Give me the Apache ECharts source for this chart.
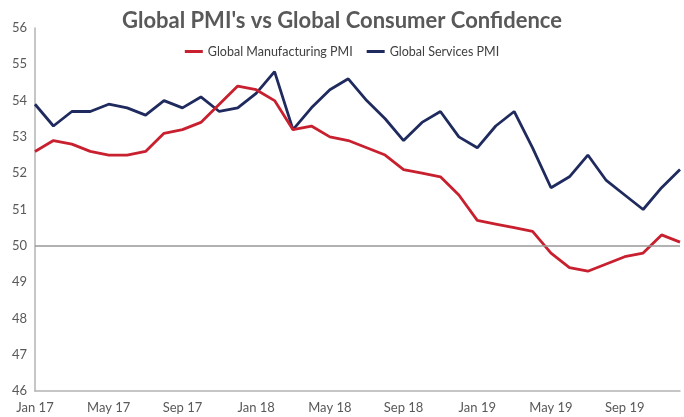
<!DOCTYPE html>
<html>
<head>
<meta charset="utf-8">
<script src="https://cdn.jsdelivr.net/npm/echarts@6/dist/echarts.min.js"></script>
<style>html,body{margin:0;padding:0;background:#fff}#c{width:684px;height:417px}</style>
</head>
<body>
<div id="c"></div>
<script>
var categories = [
  "Jan 17","Feb 17","Mar 17","Apr 17","May 17","Jun 17","Jul 17","Aug 17","Sep 17","Oct 17","Nov 17","Dec 17",
  "Jan 18","Feb 18","Mar 18","Apr 18","May 18","Jun 18","Jul 18","Aug 18","Sep 18","Oct 18","Nov 18","Dec 18",
  "Jan 19","Feb 19","Mar 19","Apr 19","May 19","Jun 19","Jul 19","Aug 19","Sep 19","Oct 19","Nov 19","Dec 19"
];
var manufacturing = [
  52.6,52.9,52.8,52.6,52.5,52.5,52.6,53.1,53.2,53.4,53.9,54.4,
  54.3,54.0,53.2,53.3,53.0,52.9,52.7,52.5,52.1,52.0,51.9,51.4,
  50.7,50.6,50.5,50.4,49.8,49.4,49.3,49.5,49.7,49.8,50.3,50.1
];
var services = [
  53.9,53.3,53.7,53.7,53.9,53.8,53.6,54.0,53.8,54.1,53.7,53.8,
  54.2,54.8,53.2,53.8,54.3,54.6,54.0,53.5,52.9,53.4,53.7,53.0,
  52.7,53.3,53.7,52.7,51.6,51.9,52.5,51.8,51.4,51.0,51.6,52.1
];
var seriesNames = ["Global Manufacturing PMI", "Global Services PMI"];
var titleText = "Global PMI's vs Global Consumer Confidence";

var chart = echarts.init(document.getElementById('c'), null, {renderer:'canvas'});
var font = 'Lato, "Source Sans Pro", sans-serif';
chart.setOption({
  animation: false,
  backgroundColor: '#fff',
  title: {
    text: titleText, left: 'center', top: 5, padding: [5, 0, 5, 14],
    textStyle: {fontFamily: font, fontSize: 22, fontWeight: 'bold', color: '#595959'}
  },
  legend: {
    top: 40, left: 'center', icon: 'rect', itemWidth: 18, itemHeight: 3, itemGap: 14,
    padding: [5, 0, 5, 16],
    textStyle: {fontFamily: font, fontSize: 12.5, color: '#404040'},
    data: seriesNames
  },
  grid: {left: 35, right: 4, top: 28, bottom: 26, containLabel: false},
  xAxis: {
    type: 'category', data: categories, boundaryGap: false,
    axisLine: {lineStyle: {color: '#b3b3b3', width: 1.5}},
    axisTick: {show: false},
    axisLabel: {interval: 3, fontFamily: font, fontSize: 13, color: '#595959', margin: 10},
    splitLine: {show: false}
  },
  yAxis: {
    type: 'value', min: 46, max: 56, interval: 1,
    axisLine: {show: true, lineStyle: {color: '#b3b3b3', width: 1.5}},
    axisTick: {show: false},
    axisLabel: {fontFamily: font, fontSize: 13, color: '#595959', margin: 8},
    splitLine: {show: false}
  },
  series: [
    {
      name: seriesNames[0], type: 'line', data: manufacturing, showSymbol: false,
      lineStyle: {color: '#C8202F', width: 2.8}, itemStyle: {color: '#C8202F'}, z: 3,
      markLine: {
        silent: true, symbol: 'none', label: {show: false},
        lineStyle: {color: '#999999', width: 1.5, type: 'solid'},
        data: [{yAxis: 50}]
      }
    },
    {
      name: seriesNames[1], type: 'line', data: services, showSymbol: false,
      lineStyle: {color: '#1F2A5E', width: 2.8}, itemStyle: {color: '#1F2A5E'}, z: 2
    }
  ]
});
</script>
</body>
</html>
